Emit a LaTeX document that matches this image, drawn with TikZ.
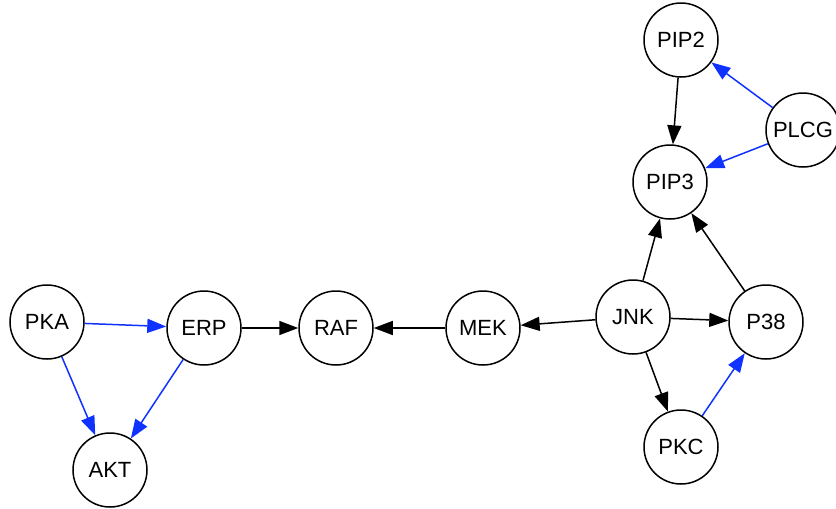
\documentclass[tikz,border=0pt]{standalone}
\usepackage{fontspec}
\setmainfont{Liberation Sans}
\usetikzlibrary{arrows.meta}
\definecolor{eblue}{RGB}{15,50,255}
\tikzset{
  gnode/.style={circle,draw=black,line width=1.5pt,minimum size=74pt,inner sep=0pt,font=\fontsize{22}{26}\selectfont},
  blk/.style={draw=black,line width=1.5pt,-{Triangle[length=19pt,width=14pt]}},
  blu/.style={draw=eblue,line width=1.5pt,-{Triangle[length=19pt,width=14pt]}},
}
\begin{document}
\begin{tikzpicture}[x=1pt,y=-1pt]
\useasboundingbox (0,0) rectangle (836,509);
\node[gnode] (PIP2) at (681,40) {PIP2};
\node[gnode] (PLCG) at (803,130) {PLCG};
\node[gnode] (PIP3) at (670,182) {PIP3};
\node[gnode] (PKA) at (47,322) {PKA};
\node[gnode] (ERP) at (204,328) {ERP};
\node[gnode] (RAF) at (336,328) {RAF};
\node[gnode] (MEK) at (483,328) {MEK};
\node[gnode] (JNK) at (633,317) {JNK};
\node[gnode] (P38) at (766,322) {P38};
\node[gnode] (PKC) at (681,447) {PKC};
\node[gnode] (AKT) at (110,470) {AKT};
\draw[blk] (PIP2) -- (PIP3);
\draw[blu] (PLCG) -- (PIP2);
\draw[blu] (PLCG) -- (PIP3);
\draw[blu] (PKA) -- (ERP);
\draw[blu] (PKA) -- (AKT);
\draw[blu] (ERP) -- (AKT);
\draw[blk] (ERP) -- (RAF);
\draw[blk] (MEK) -- (RAF);
\draw[blk] (JNK) -- (MEK);
\draw[blk] (JNK) -- (PIP3);
\draw[blk] (P38) -- (PIP3);
\draw[blk] (JNK) -- (P38);
\draw[blk] (JNK) -- (PKC);
\draw[blu] (PKC) -- (P38);
\end{tikzpicture}
\end{document}
